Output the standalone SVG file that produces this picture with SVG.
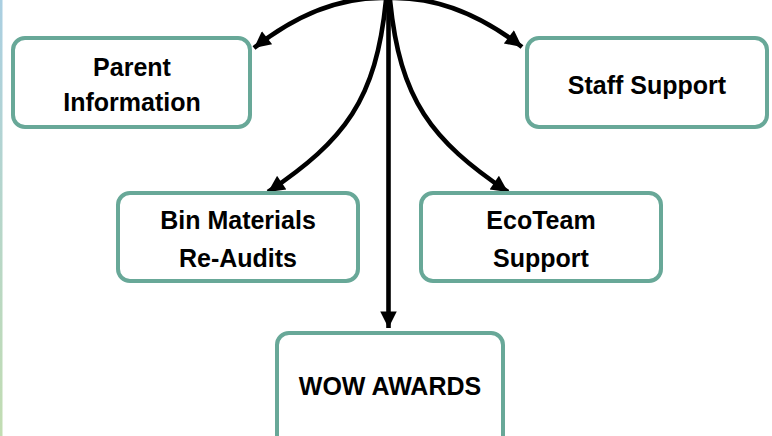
<svg xmlns="http://www.w3.org/2000/svg" width="772" height="436" viewBox="0 0 772 436">
<defs>
<linearGradient id="edge" x1="0" y1="0" x2="0" y2="1">
<stop offset="0" stop-color="#aacfe2"/>
<stop offset="1" stop-color="#c2ddb2"/>
</linearGradient>
<marker id="ah" viewBox="0 0 10 10" refX="10" refY="5" markerWidth="4.2" markerHeight="3.6" orient="auto" markerUnits="strokeWidth">
<path d="M0,0 L10,5 L0,10 Z" fill="#000"/>
</marker>
<style>
.box{fill:#fff;stroke:#68a898;stroke-width:4}
.lbl{font-family:"Liberation Sans",Arial,sans-serif;font-weight:bold;font-size:25px;fill:#000;text-anchor:middle}
.con{fill:none;stroke:#000;stroke-width:4.6;marker-end:url(#ah)}
</style>
</defs>
<rect x="0" y="0" width="772" height="436" fill="#fff"/>
<rect x="0" y="0" width="2.5" height="436" fill="url(#edge)"/>
<g id="connectors">
<path class="con" d="M386,-2 Q320,-4 254,48"/>
<path class="con" d="M390,-2 Q456,-4 522,47"/>
<path class="con" d="M386,0 C376,100 345,140 268,192"/>
<path class="con" d="M390,0 C400,100 431,140 508,192"/>
<path class="con" d="M388.5,0 L388.5,328"/>
</g>
<g id="parent-information">
<rect class="box" x="13" y="38" width="237" height="89" rx="12"/>
<text class="lbl" x="132" y="76">Parent</text>
<text class="lbl" x="132" y="111">Information</text>
</g>
<g id="staff-support">
<rect class="box" x="527" y="38" width="240" height="89" rx="12"/>
<text class="lbl" x="647" y="94">Staff Support</text>
</g>
<g id="bin-materials">
<rect class="box" x="118" y="193" width="240" height="88" rx="12"/>
<text class="lbl" x="238" y="229">Bin Materials</text>
<text class="lbl" x="238" y="267">Re-Audits</text>
</g>
<g id="ecoteam-support">
<rect class="box" x="421" y="193" width="240" height="88" rx="12"/>
<text class="lbl" x="541" y="229">EcoTeam</text>
<text class="lbl" x="541" y="267">Support</text>
</g>
<g id="wow-awards">
<rect class="box" x="277" y="333" width="226" height="120" rx="12"/>
<text class="lbl" x="390" y="395">WOW AWARDS</text>
</g>
</svg>
